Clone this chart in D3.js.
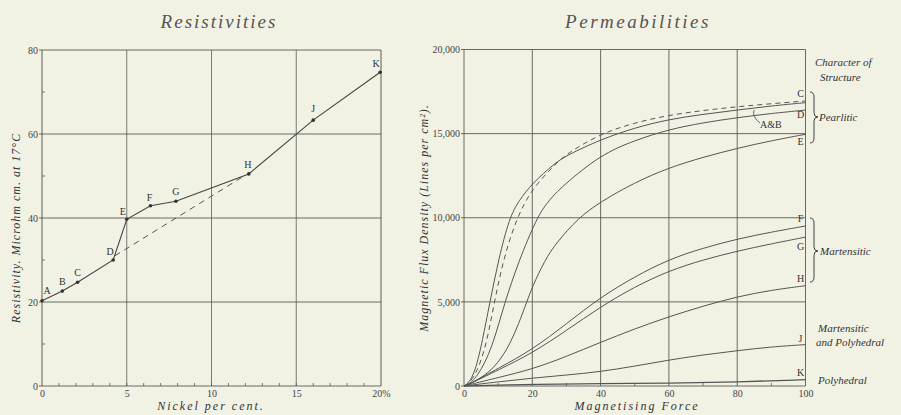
<!DOCTYPE html>
<html>
<head>
<meta charset="utf-8">
<script src="https://cdn.jsdelivr.net/npm/d3@7"></script>
<style>
  body { margin: 0; background: #f1f2e4; }
  svg { display: block; }
  .title { font-family: "Liberation Serif", "DejaVu Serif", serif; font-style: italic; font-size: 19px; fill: #555; letter-spacing: 2px; }
  .tick text { font-family: "Liberation Serif", serif; font-size: 10px; fill: #444; }
  .axlab { font-family: "Liberation Serif", serif; font-style: italic; font-size: 12px; fill: #333; letter-spacing: 1px; }
  .ann { font-family: "Liberation Serif", serif; font-style: italic; font-size: 11px; fill: #333; }
  .let { font-family: "Liberation Serif", serif; font-size: 10px; fill: #333; }
</style>
</head>
<body>
<svg width="901" height="415"></svg>
<script>
// resistivity vs nickel content
const letters = ['A', 'B', 'C', 'D', 'E', 'F', 'G', 'H', 'J', 'K'];
const nickel = [0, 1.2, 2.1, 4.2, 5.0, 6.4, 7.9, 12.2, 16.0, 19.95];
const resistivity = [20.3, 22.6, 24.7, 30.0, 39.7, 42.9, 44.0, 50.5, 63.3, 74.7];
const dashedNickel = [4.3, 12.0];
const dashedRes = [31.0, 50.2];
const resTicks = [0, 20, 40, 60, 80];
const nickelTicks = [0, 5, 10, 15, 20];

// permeability curves: [magnetising force, flux density]
const curveAB = [[0, 0], [1.5, 200], [3, 800], [4, 1500], [5.2, 2500], [7.6, 5000], [10.2, 7600], [13.3, 10000], [16, 11000], [20, 12050], [26.6, 13240], [30, 13700], [40, 14650], [50, 15350], [60, 15850], [70, 16150], [80, 16400], [90, 16650], [100, 16840]];
const curveC = [[0, 0], [1.5, 150], [4, 900], [6.6, 2500], [8.9, 5000], [11.5, 7500], [15.4, 10000], [20, 11750], [26.6, 13150], [30, 13800], [40, 15000], [50, 15650], [60, 16100], [70, 16380], [80, 16600], [90, 16780], [100, 16940]];
const curveD = [[0, 0], [2, 150], [5, 900], [8.6, 2500], [11.8, 4900], [16, 7400], [21.3, 10000], [24.5, 10950], [28.6, 11850], [40, 13750], [50, 14600], [60, 15250], [70, 15650], [80, 15950], [90, 16200], [100, 16400]];
const curveE = [[0, 0], [2, 150], [6, 600], [10, 1350], [13.5, 2500], [16, 3700], [18.4, 5000], [20, 5900], [23.7, 7490], [27, 8500], [33.5, 10000], [40, 10950], [50, 12100], [60, 12975], [70, 13600], [80, 14130], [90, 14580], [100, 14960]];
const curveF = [[0, 0], [2, 150], [10, 1050], [20, 2150], [30, 3700], [40, 5280], [50, 6500], [60, 7530], [70, 8200], [80, 8740], [90, 9150], [100, 9510]];
const curveG = [[0, 0], [2, 150], [10, 950], [20, 1950], [30, 3300], [40, 4710], [50, 5900], [60, 6850], [70, 7500], [80, 8020], [90, 8450], [100, 8850]];
const curveH = [[0, 0], [2, 100], [10, 500], [20, 1000], [30, 1750], [40, 2600], [50, 3400], [60, 4120], [70, 4750], [80, 5310], [90, 5700], [100, 5960]];
const curveJ = [[0, 0], [10, 250], [20, 470], [30, 650], [40, 850], [50, 1180], [60, 1545], [70, 1850], [80, 2100], [90, 2330], [100, 2460]];
const curveK = [[0, 0], [10, 60], [20, 100], [40, 140], [60, 170], [80, 230], [100, 380]];
const fluxTicks = [0, 5000, 10000, 15000, 20000];
const fluxTickLabels = ['0', '5,000', '10,000', '15,000', '20,000'];
const forceTicks = [0, 20, 40, 60, 80, 100];

const svg = d3.select('svg');
const ink = '#5a5a55';

// ---------- left: resistivities ----------
const xL = d3.scaleLinear().domain([0, 20]).range([42, 381]);
const yL = d3.scaleLinear().domain([0, 80]).range([386, 50]);
const left = svg.append('g');

left.append('text').attr('class', 'title').attr('x', 219).attr('y', 28)
  .attr('text-anchor', 'middle').text('Resistivities');

// grid
left.append('g').selectAll('line').data(nickelTicks).join('line')
  .attr('x1', d => xL(d)).attr('x2', d => xL(d)).attr('y1', yL(0)).attr('y2', yL(80))
  .attr('stroke', ink).attr('stroke-width', d => d === 0 || d === 20 ? 1 : 0.8);
left.append('g').selectAll('line').data(resTicks).join('line')
  .attr('x1', xL(0) - 3).attr('x2', xL(20)).attr('y1', d => yL(d)).attr('y2', d => yL(d))
  .attr('stroke', ink).attr('stroke-width', 0.9);

// minor ticks
left.append('g').selectAll('line').data(d3.range(1, 20)).join('line')
  .attr('x1', d => xL(d)).attr('x2', d => xL(d)).attr('y1', yL(0)).attr('y2', yL(0) - 3)
  .attr('stroke', ink).attr('stroke-width', 0.8);
left.append('g').selectAll('line').data([10, 30, 50, 70]).join('line')
  .attr('x1', xL(0)).attr('x2', xL(0) + 3).attr('y1', d => yL(d)).attr('y2', d => yL(d))
  .attr('stroke', ink).attr('stroke-width', 0.8);

// axis labels
left.append('g').attr('class', 'tick').call(
  d3.axisLeft(yL).tickValues(resTicks).tickSize(0).tickPadding(4)
).call(g => g.select('.domain').remove()).attr('transform', `translate(${xL(0)},0)`);
left.append('g').attr('class', 'tick').call(
  d3.axisBottom(xL).tickValues(nickelTicks).tickSize(0).tickPadding(4)
    .tickFormat(d => d === 20 ? '20%' : d)
).call(g => g.select('.domain').remove()).attr('transform', `translate(0,${yL(0)})`);

left.append('text').attr('class', 'axlab').attr('transform', 'translate(20,228) rotate(-90)')
  .attr('text-anchor', 'middle').text('Resistivity.  Microhm cm. at 17°C');
left.append('text').attr('class', 'axlab').attr('x', 211).attr('y', 410)
  .attr('text-anchor', 'middle').style('letter-spacing', '2px').text('Nickel per cent.');

const resData = nickel.map((n, i) => ({ n, r: resistivity[i], name: letters[i] }));
const lineL = d3.line().x(d => xL(d.n)).y(d => yL(d.r));
left.append('path').datum(resData).attr('d', lineL)
  .attr('fill', 'none').attr('stroke', '#444').attr('stroke-width', 1.1);
left.append('path').datum(dashedNickel.map((n, i) => ({ n, r: dashedRes[i] }))).attr('d', lineL)
  .attr('fill', 'none').attr('stroke', '#555').attr('stroke-width', 1).attr('stroke-dasharray', '6,5');
left.append('g').selectAll('circle').data(resData).join('circle')
  .attr('cx', d => xL(d.n)).attr('cy', d => yL(d.r)).attr('r', 1.8).attr('fill', '#333');

const resLabelOffset = { A: [5, -7], B: [0, -6], C: [0, -6], D: [-3, -5], E: [-4, -4], F: [-1, -5], G: [0, -6], H: [-1, -6], J: [0, -8], K: [-4, -5] };
left.append('g').selectAll('text').data(resData).join('text')
  .attr('class', 'let').attr('text-anchor', 'middle')
  .attr('x', d => xL(d.n) + resLabelOffset[d.name][0])
  .attr('y', d => yL(d.r) + resLabelOffset[d.name][1])
  .text(d => d.name);

// ---------- right: permeabilities ----------
const xR = d3.scaleLinear().domain([0, 100]).range([464, 805.5]);
const yR = d3.scaleLinear().domain([0, 20000]).range([386, 49.5]);
const right = svg.append('g');

right.append('text').attr('class', 'title').attr('x', 638).attr('y', 28)
  .attr('text-anchor', 'middle').style('letter-spacing', '2.5px').text('Permeabilities');

right.append('g').selectAll('line').data(forceTicks).join('line')
  .attr('x1', d => xR(d)).attr('x2', d => xR(d)).attr('y1', yR(0)).attr('y2', yR(20000))
  .attr('stroke', ink).attr('stroke-width', 0.9);
right.append('g').selectAll('line').data(fluxTicks).join('line')
  .attr('x1', xR(0) - 3).attr('x2', xR(100)).attr('y1', d => yR(d)).attr('y2', d => yR(d))
  .attr('stroke', ink).attr('stroke-width', 0.9);
right.append('g').selectAll('line').data([10, 30, 50, 70, 90]).join('line')
  .attr('x1', d => xR(d)).attr('x2', d => xR(d)).attr('y1', yR(0)).attr('y2', yR(0) - 3)
  .attr('stroke', ink).attr('stroke-width', 0.8);

right.append('g').attr('class', 'tick').call(
  d3.axisLeft(yR).tickValues(fluxTicks).tickSize(0).tickPadding(4)
    .tickFormat((d, i) => fluxTickLabels[i])
).call(g => g.select('.domain').remove()).attr('transform', `translate(${xR(0)},0)`);
right.append('g').attr('class', 'tick').call(
  d3.axisBottom(xR).tickValues(forceTicks).tickSize(0).tickPadding(4)
).call(g => g.select('.domain').remove()).attr('transform', `translate(0,${yR(0)})`);

right.append('text').attr('class', 'axlab').attr('transform', 'translate(428,218) rotate(-90)')
  .attr('text-anchor', 'middle').text('Magnetic Flux Density (Lines per cm²).');
right.append('text').attr('class', 'axlab').attr('x', 637).attr('y', 410)
  .attr('text-anchor', 'middle').style('letter-spacing', '2px').text('Magnetising  Force');

const curves = [
  { name: 'A&B', pts: curveAB }, { name: 'C', pts: curveC, dashed: true },
  { name: 'D', pts: curveD }, { name: 'E', pts: curveE }, { name: 'F', pts: curveF },
  { name: 'G', pts: curveG }, { name: 'H', pts: curveH }, { name: 'J', pts: curveJ },
  { name: 'K', pts: curveK }
];
const lineR = d3.line().x(d => xR(d[0])).y(d => yR(d[1])).curve(d3.curveBasis);
right.append('g').selectAll('path').data(curves).join('path')
  .attr('d', d => lineR(d.pts)).attr('fill', 'none')
  .attr('stroke', '#555').attr('stroke-width', d => d.name === 'K' ? 1.3 : 1)
  .attr('stroke-dasharray', d => d.dashed ? '5,4' : null);

const endOffset = { C: -7, D: 5, E: 8, F: -7, G: 10, H: -7, J: -6, K: -7 };
right.append('g').selectAll('text').data(curves.filter(c => endOffset[c.name] !== undefined)).join('text')
  .attr('class', 'let').attr('text-anchor', 'middle')
  .attr('x', xR(100) - 5)
  .attr('y', d => yR(d.pts[d.pts.length - 1][1]) + endOffset[d.name] + 3)
  .text(d => d.name);

// A & B leader
right.append('path').attr('d', 'M760,123 Q752,117 754,110').attr('fill', 'none').attr('stroke', '#444').attr('stroke-width', 0.8);
right.append('text').attr('class', 'let').attr('x', 760).attr('y', 128).text('A&B');

// braces
function brace(x, y1, ym, y2) {
  return `M${x},${y1} q4,0 4,5 L${x + 4},${ym - 4} q0,4 4,4 q-4,0 -4,4 L${x + 4},${y2 - 5} q0,5 -4,5`;
}
right.append('path').attr('d', brace(810, 92, 117, 143)).attr('fill', 'none').attr('stroke', '#444');
right.append('path').attr('d', brace(810, 218, 251, 282)).attr('fill', 'none').attr('stroke', '#444');

const notes = [
  ['Character of', 815, 66], ['Structure', 820, 81], ['Pearlitic', 819, 121],
  ['Martensitic', 820, 255], ['Martensitic', 818, 332], ['and Polyhedral', 816, 346],
  ['Polyhedral', 818, 384]
];
right.append('g').selectAll('text').data(notes).join('text')
  .attr('class', 'ann').attr('x', d => d[1]).attr('y', d => d[2]).text(d => d[0]);
</script>
</body>
</html>
